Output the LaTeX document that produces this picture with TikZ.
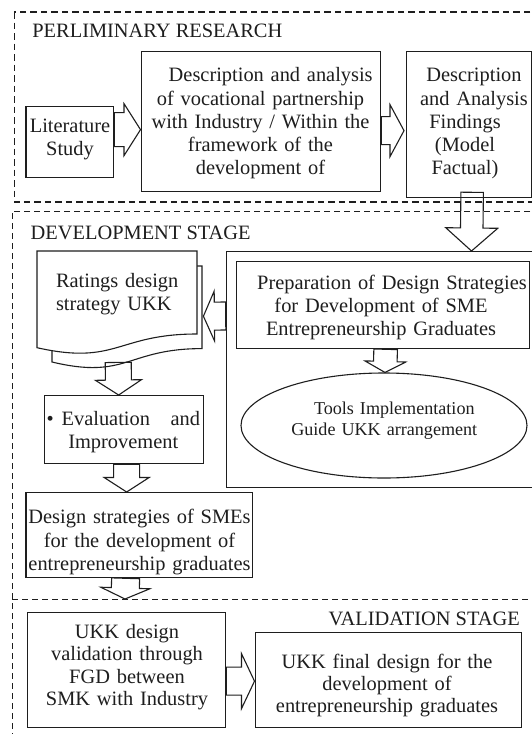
\documentclass[tikz,border=0pt]{standalone}
\usepackage{fontspec}
\setmainfont{Liberation Serif}
\usetikzlibrary{calc,shapes.geometric}
\definecolor{ink}{HTML}{1E1E1E}
\newcommand{\blockarrow}[6]{%
  \coordinate (#1s) at (#2);
  \coordinate (#1t) at (#3);
  \coordinate (#1h) at ($(#1t)!#6!(#1s)$);
  \draw[barrow] ($(#1s)!#4!-90:(#1t)$) -- ($(#1h)!#4!90:(#1s)$) -- ($(#1h)!#5!90:(#1s)$)
     -- (#1t) -- ($(#1h)!#5!-90:(#1s)$) -- ($(#1h)!#4!-90:(#1s)$) -- ($(#1s)!#4!90:(#1t)$) -- cycle;
}
\tikzset{
  box/.style={draw=ink, line width=1.3pt, inner sep=0pt, anchor=north west},
  txt/.style={inner sep=0pt, anchor=base, text width=320pt, align=center, text=ink,
              font=\fontsize{20.4pt}{23.3pt}\selectfont},
  title/.style={inner sep=0pt, text=ink, font=\fontsize{20.4pt}{23.3pt}\selectfont},
  barrow/.style={draw=ink, line width=1.1pt, line join=miter},
  bigdash/.style={draw=ink, line width=1.3pt, dash pattern=on 6.5pt off 4pt},
  stagedash/.style={draw=ink, line width=0.9pt, dash pattern=on 6pt off 4pt},
  docshape/.style={draw=ink, line width=1.1pt, fill=white},
}
\begin{document}
\begin{tikzpicture}[x=1pt, y=-1pt]
\useasboundingbox (0,0) rectangle (532,734);
\clip (0,0) rectangle (532,734);
\fill[white] (0,0) rectangle (532,734);

% stage frames
\draw[bigdash] (14.3,12) rectangle (560,202);
\draw[stagedash] (560,211) -- (12,211) -- (12,760);
\draw[stagedash] (12,599) -- (560,599);
\coordinate (valtop) at (125,599);

% titles
\node[title, anchor=base west] (t1) at (32.2,37.7) {PERLIMINARY RESEARCH};
\node[title, anchor=base west] (t2) at (30.5,239) {DEVELOPMENT STAGE};
\node[title, anchor=base east] (t3) at (520,625) {VALIDATION STAGE};

% document shape (Ratings)
\node[inner sep=0pt, minimum width=165.5pt, minimum height=111pt, anchor=north west] (ratings) at (37,251) {};
\draw[docshape] (52,266) -- (202,266) -- (202,348.6) .. controls (127,348.6) and (127,380) .. (52,362) -- cycle;
\draw[docshape] (37,251) -- (197,251) -- (197,334) .. controls (117,334) and (117,365.6) .. (37,347.7) -- cycle;

% boxes
\node[box, minimum width=87.6pt, minimum height=71pt] (lit) at (25.4,106) {};
\node[box, minimum width=239.5pt, minimum height=140pt] (desc) at (140.5,51) {};
\node[box, minimum width=125pt, minimum height=146pt] (findings) at (406,51) {};
\node[box, minimum width=330pt, minimum height=236pt] (bigbox) at (225.7,251) {};
\node[box, minimum width=292.6pt, minimum height=87pt] (prep) at (236,261) {};
\node[draw=ink, line width=1.1pt, ellipse, inner sep=0pt, minimum width=286pt, minimum height=105pt] (tools) at (384,425.5) {};
\node[box, minimum width=159pt, minimum height=68pt] (eval) at (44,395) {};
\node[box, minimum width=226.4pt, minimum height=85pt] (smes) at (25.4,492) {};
\node[box, minimum width=198.5pt, minimum height=115pt] (val) at (26.5,612) {};
\node[box, minimum width=266.4pt, minimum height=95pt] (final) at (254.5,632) {};

% block arrows
\blockarrow{a1}{$(lit.east)+(0,-12.5)$}{$(desc.west)+(0,8)$}{17pt}{26pt}{16.5pt}
\blockarrow{a2}{$(desc.east)+(0,9)$}{$(findings.west)+(-2,6)$}{14pt}{26pt}{14pt}
\blockarrow{a3}{$(findings.south)+(3,-6)$}{$(bigbox.north west)+(245.8,0)$}{11.25pt}{26pt}{23pt}
\blockarrow{a4}{$(prep.south)+(2.7,0)$}{$(tools.north)+(1,0)$}{11.8pt}{20.4pt}{11pt}
\blockarrow{a5}{$(bigbox.north west)+(0,65)$}{$(ratings.east)+(0.5,9.5)$}{14pt}{25pt}{11pt}
\blockarrow{a6}{$(ratings.south)+(-1.75,0)$}{$(eval.north)+(-5.5,0)$}{13pt}{23pt}{15pt}
\blockarrow{a7}{$(eval.south)+(2.5,0)$}{$(smes.north)+(-12.6,0)$}{13pt}{22.5pt}{14.5pt}
\blockarrow{a8}{$(smes.south)+(-13.6,0)$}{valtop}{14pt}{24.5pt}{11pt}
\blockarrow{a9}{$(val.east)+(0,11)$}{$(final.west)+(0,1)$}{14pt}{27.5pt}{13pt}

% texts
\node[txt] (lit-t) at (70,132.5) {Literature\\Study};
\node[txt] (desc-t) at (260.5,81.7) {\hspace*{1em}Description and analysis\\of vocational partnership\\with Industry / Within the\\framework of the\\development of};
\node[txt] (find-t) at (465,81.7) {\hspace*{18pt}Description\\\hspace*{18pt}and Analysis\\Findings\\(Model\\Factual)};
\node[txt] (prep-t) at (381,289.3) {\hspace*{22pt}Preparation of Design Strategies\\for Development of SME\\Entrepreneurship Graduates};
\node[txt, font=\fontsize{18.1pt}{20.7pt}\selectfont] (tools-t) at (384.3,414.3) {\hspace*{20pt}Tools Implementation\\Guide UKK arrangement};
\node[txt, text width=130pt, align=left] (rat-t) at (121,287) {Ratings design\\strategy UKK};
\node[txt, text width=153.5pt] (eval-t) at (123.25,425) {\textbullet\hspace{8pt}Evaluation\hfill and\\Improvement};
\node[txt, font=\fontsize{20.4pt}{23.5pt}\selectfont] (smes-t) at (139.5,523.5) {Design strategies of SMEs\\for the development of\\entrepreneurship graduates};
\node[txt, font=\fontsize{20.4pt}{22.5pt}\selectfont] (val-t) at (127,638) {UKK design\\validation through\\FGD between\\SMK with Industry};
\node[txt, font=\fontsize{20.4pt}{22.2pt}\selectfont] (final-t) at (387,668) {UKK final design for the\\development of\\entrepreneurship graduates};
\end{tikzpicture}
\end{document}
